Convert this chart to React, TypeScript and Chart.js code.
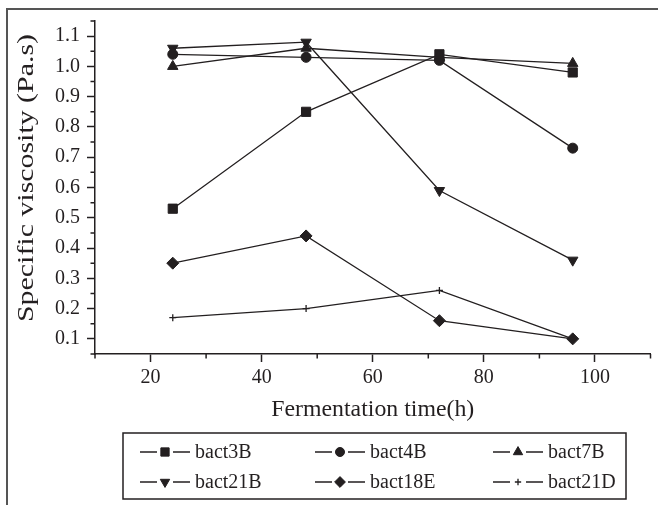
import { useEffect, useRef } from 'react';
import { Chart, registerables } from 'chart.js';
import { drawPoint } from 'chart.js/helpers';

Chart.register(...registerables);

// ---- data ----
const HOURS = [24, 48, 72, 96];
const BACT3B = [0.53, 0.85, 1.04, 0.98];
const BACT4B = [1.04, 1.03, 1.02, 0.73];
const BACT7B = [1.0, 1.06, 1.03, 1.01];
const BACT21B = [1.06, 1.08, 0.59, 0.36];
const BACT18E = [0.35, 0.44, 0.16, 0.1];
const BACT21D = [0.17, 0.2, 0.26, 0.1];

const SERIES_NAMES = ['bact3B', 'bact4B', 'bact7B', 'bact21B', 'bact18E', 'bact21D'];
const SERIES_VALUES = [BACT3B, BACT4B, BACT7B, BACT21B, BACT18E, BACT21D];

const X_MAJOR = [20, 40, 60, 80, 100];
const X_MINOR = [10, 30, 50, 70, 90, 110];
const Y_MAJOR = [0.1, 0.2, 0.3, 0.4, 0.5, 0.6, 0.7, 0.8, 0.9, 1.0, 1.1];
const Y_MINOR = [0.05, 0.15, 0.25, 0.35, 0.45, 0.55, 0.65, 0.75, 0.85, 0.95, 1.05, 1.15];

const X_TITLE = 'Fermentation time(h)';
const Y_TITLE = 'Specific viscosity (Pa.s)';

// ---- styles ----
const INK = '#231f20';
const FONT = 'Liberation Serif';

const MARKERS = [
  { pointStyle: 'rect', radius: 6.5, rotation: 0 },
  { pointStyle: 'circle', radius: 5, rotation: 0 },
  { pointStyle: 'triangle', radius: 6, rotation: 0 },
  { pointStyle: 'triangle', radius: 6, rotation: 180 },
  { pointStyle: 'rectRot', radius: 6, rotation: 0 },
  { pointStyle: 'cross', radius: 3.5, rotation: 0 },
];

const stretchText = (ctx: CanvasRenderingContext2D, text: string, cx: number, cy: number, target: number, size: number, rot: number) => {
  ctx.save();
  ctx.font = `${size}px "${FONT}"`;
  ctx.fillStyle = INK;
  ctx.textAlign = 'center';
  ctx.textBaseline = 'middle';
  const w = ctx.measureText(text).width;
  ctx.translate(cx, cy);
  ctx.rotate(rot);
  ctx.scale(target / w, 1);
  ctx.fillText(text, 0, 0);
  ctx.restore();
};

const customPlugin = {
  id: 'customDecor',
  beforeDraw(chart: any) {
    const ctx = chart.ctx as CanvasRenderingContext2D;
    ctx.save();
    ctx.fillStyle = '#ffffff';
    ctx.fillRect(0, 0, chart.width, chart.height);
    ctx.strokeStyle = '#555555';
    ctx.lineWidth = 2;
    ctx.beginPath();
    ctx.moveTo(7, chart.height);
    ctx.lineTo(7, 9);
    ctx.lineTo(chart.width, 9);
    ctx.stroke();
    ctx.restore();
  },
  afterDraw(chart: any) {
    const ctx = chart.ctx as CanvasRenderingContext2D;
    const xs = chart.scales.x;
    const ys = chart.scales.y;
    const area = chart.chartArea;
    ctx.save();
    ctx.strokeStyle = INK;
    ctx.lineWidth = 1.5;
    ctx.beginPath();
    X_MINOR.forEach((v) => {
      const px = xs.getPixelForValue(v);
      ctx.moveTo(px, area.bottom);
      ctx.lineTo(px, area.bottom + 4.5);
    });
    Y_MINOR.forEach((v) => {
      const py = ys.getPixelForValue(v);
      ctx.moveTo(area.left - 4.5, py);
      ctx.lineTo(area.left, py);
    });
    ctx.stroke();
    ctx.restore();

    // axis titles
    stretchText(ctx, X_TITLE, (area.left + area.right) / 2, 410, 203, 23, 0);
    stretchText(ctx, Y_TITLE, 27, 178, 288, 23, -Math.PI / 2);

    // legend
    const box = { x: 123, y: 433, w: 503, h: 66 };
    ctx.save();
    ctx.strokeStyle = INK;
    ctx.lineWidth = 1.5;
    ctx.strokeRect(box.x, box.y, box.w, box.h);
    const colX = [140, 315, 493];
    const rowY = [452, 482];
    ctx.font = `20px "${FONT}"`;
    ctx.textBaseline = 'middle';
    ctx.textAlign = 'left';
    chart.data.datasets.forEach((ds: any, i: number) => {
      const x0 = colX[i % 3];
      const y0 = rowY[Math.floor(i / 3)];
      const m = MARKERS[i];
      ctx.strokeStyle = INK;
      ctx.lineWidth = 1.5;
      ctx.beginPath();
      ctx.moveTo(x0, y0);
      ctx.lineTo(x0 + 17, y0);
      ctx.moveTo(x0 + 33, y0);
      ctx.lineTo(x0 + 50, y0);
      ctx.stroke();
      ctx.fillStyle = INK;
      ctx.strokeStyle = INK;
      ctx.lineWidth = m.pointStyle === 'cross' ? 1.3 : 1;
      drawPoint(ctx, { pointStyle: m.pointStyle as any, radius: m.radius * 0.9, rotation: m.rotation, borderWidth: ctx.lineWidth }, x0 + 25, y0);
      ctx.fillStyle = INK;
      ctx.fillText(ds.label, x0 + 55, y0 + 1);
    });
    ctx.restore();
  },
};

export default function App() {
  const canvasRef = useRef<HTMLCanvasElement | null>(null);

  useEffect(() => {
    if (!canvasRef.current) return;
    Chart.defaults.font.family = FONT;
    Chart.defaults.color = INK;

    const datasets = SERIES_NAMES.map((name, i) => ({
      label: name,
      data: HOURS.map((h, j) => ({ x: h, y: SERIES_VALUES[i][j] })),
      borderColor: INK,
      borderWidth: 1.3,
      backgroundColor: INK,
      pointBackgroundColor: INK,
      pointBorderColor: INK,
      pointBorderWidth: MARKERS[i].pointStyle === 'cross' ? 1.3 : 1,
      pointStyle: MARKERS[i].pointStyle as any,
      pointRadius: MARKERS[i].radius,
      pointRotation: MARKERS[i].rotation,
      pointHoverRadius: MARKERS[i].radius,
      tension: 0,
      fill: false,
    }));

    const chart = new Chart(canvasRef.current, {
      type: 'line',
      data: { datasets },
      options: {
        animation: false,
        responsive: false,
        maintainAspectRatio: false,
        devicePixelRatio: 1,
        layout: { padding: { top: 21, right: 3, left: 0, bottom: 0 } },
        plugins: { legend: { display: false }, tooltip: { enabled: false } },
        scales: {
          x: {
            type: 'linear',
            min: 10,
            max: 110,
            afterBuildTicks: (s: any) => {
              s.ticks = X_MAJOR.map((v) => ({ value: v }));
            },
            afterFit: (s: any) => {
              s.height = 151;
            },
            grid: { drawOnChartArea: false, drawTicks: true, tickLength: 8, tickColor: INK, tickWidth: 1.5 },
            border: { display: true, color: INK, width: 1.5 },
            ticks: {
              font: { size: 20, family: FONT },
              color: INK,
              padding: 4,
              maxRotation: 0,
              autoSkip: false,
              callback: (v: any) => String(v),
            },
          },
          y: {
            type: 'linear',
            min: 0.05,
            max: 1.15,
            afterBuildTicks: (s: any) => {
              s.ticks = Y_MAJOR.map((v) => ({ value: v }));
            },
            afterFit: (s: any) => {
              s.width = 95;
            },
            grid: { drawOnChartArea: false, drawTicks: true, tickLength: 8, tickColor: INK, tickWidth: 1.5 },
            border: { display: true, color: INK, width: 1.5 },
            ticks: {
              font: { size: 20, family: FONT },
              color: INK,
              padding: 7,
              autoSkip: false,
              callback: (v: any) => Number(v).toFixed(1),
            },
          },
        },
      },
      plugins: [customPlugin],
    });
    return () => chart.destroy();
  }, []);

  return (
    <div style={{ position: 'absolute', left: 0, top: 0, width: 658, height: 505 }}>
      <canvas ref={canvasRef} width={658} height={505} style={{ display: 'block', width: 658, height: 505 }} />
    </div>
  );
}
